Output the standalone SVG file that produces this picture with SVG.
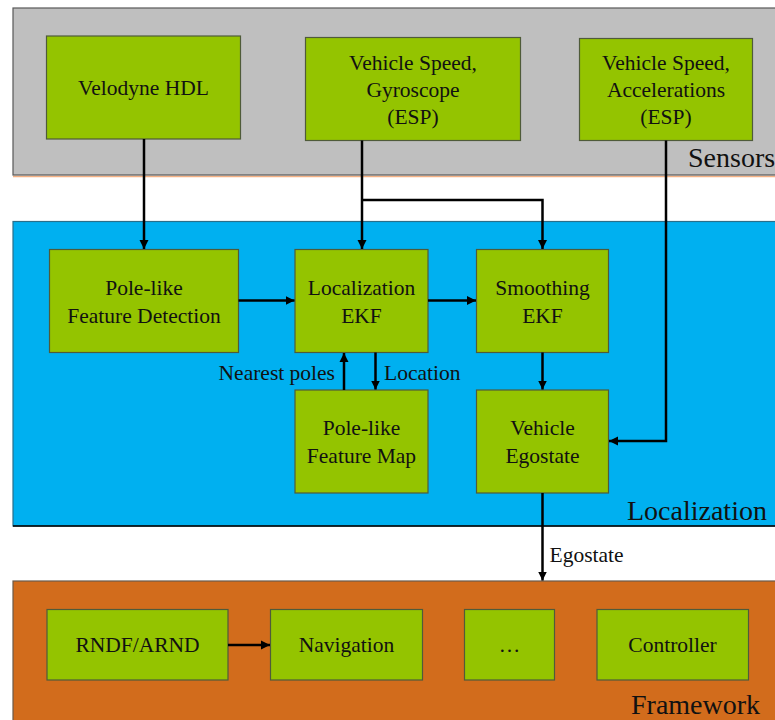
<svg xmlns="http://www.w3.org/2000/svg" width="775" height="720" viewBox="0 0 775 720" font-family="'Liberation Serif', 'DejaVu Serif', serif">
<style>
.node rect{fill:#94C400;stroke:#4F5B3A;stroke-width:1.2}
text{font-family:'Liberation Serif','DejaVu Serif',serif;fill:#111}
.nt{font-size:21.5px;text-anchor:middle}
.lbl{font-size:21.5px}
.pl{font-size:28px}
.conn path{fill:none;stroke:#000;stroke-width:2.5}
</style>
<defs>
<marker id="ah" markerUnits="userSpaceOnUse" markerWidth="10" markerHeight="10" refX="9" refY="5" orient="auto">
<path d="M0,0.5 L9,5 L0,9.5 z" fill="#000"/>
</marker>
</defs>
<rect width="775" height="720" fill="#fff"/>
<g id="sensors-panel">
<line x1="13" y1="176.5" x2="775" y2="176.5" stroke="#F4B183" stroke-width="1.5"/>
<rect x="13" y="8" width="780" height="167" fill="#BFBFBF" stroke="#595959" stroke-width="1.2"/>
<text class="pl" x="688" y="167">Sensors</text>
</g>
<g id="localization-panel">
<rect x="13" y="221.5" width="780" height="304.5" fill="#00B0F0" stroke="#2A6F8A" stroke-width="1.2"/>
<line x1="13" y1="526" x2="775" y2="526" stroke="#000" stroke-width="1.5"/>
<text class="pl" x="627" y="520">Localization</text>
</g>
<g id="framework-panel">
<rect x="13" y="581" width="780" height="150" fill="#D26C1C" stroke="#6B5A4A" stroke-width="1.2"/>
<text class="pl" x="631" y="714">Framework</text>
</g>
<g id="velodyne" class="node"><rect x="46.5" y="36" width="194" height="103"/><text class="nt" x="143.5" y="95">Velodyne HDL</text></g>
<g id="gyro" class="node"><rect x="305.5" y="37.5" width="215" height="103"/><text class="nt" x="413" y="70">Vehicle Speed,</text><text class="nt" x="413" y="97">Gyroscope</text><text class="nt" x="413" y="124">(ESP)</text></g>
<g id="accel" class="node"><rect x="579.5" y="38.5" width="173" height="102"/><text class="nt" x="666" y="70">Vehicle Speed,</text><text class="nt" x="666" y="97">Accelerations</text><text class="nt" x="666" y="124">(ESP)</text></g>
<g id="pole-detection" class="node"><rect x="49.5" y="249.5" width="189" height="103"/><text class="nt" x="144" y="295">Pole-like</text><text class="nt" x="144" y="323">Feature Detection</text></g>
<g id="loc-ekf" class="node"><rect x="295" y="249.5" width="133" height="103"/><text class="nt" x="361.5" y="295">Localization</text><text class="nt" x="361.5" y="323">EKF</text></g>
<g id="smooth-ekf" class="node"><rect x="476.5" y="249.5" width="132" height="103"/><text class="nt" x="542.5" y="295">Smoothing</text><text class="nt" x="542.5" y="323">EKF</text></g>
<g id="pole-map" class="node"><rect x="295" y="390" width="133" height="103"/><text class="nt" x="361.5" y="435">Pole-like</text><text class="nt" x="361.5" y="463">Feature Map</text></g>
<g id="egostate" class="node"><rect x="476.5" y="390" width="132" height="103"/><text class="nt" x="542.5" y="435">Vehicle</text><text class="nt" x="542.5" y="463">Egostate</text></g>
<g id="rndf" class="node"><rect x="47" y="609.5" width="181" height="70.5"/><text class="nt" x="137.5" y="652">RNDF/ARND</text></g>
<g id="navigation" class="node"><rect x="270.5" y="609.5" width="152" height="70.5"/><text class="nt" x="346.5" y="652">Navigation</text></g>
<g id="dots" class="node"><rect x="464.5" y="609.5" width="90" height="70.5"/><text class="nt" x="509.5" y="652">…</text></g>
<g id="controller" class="node"><rect x="597" y="609.5" width="151.5" height="70.5"/><text class="nt" x="672.5" y="652">Controller</text></g>
<g id="connectors" class="conn">
<path d="M144,139 V249" marker-end="url(#ah)"/>
<path d="M362,140.5 V249" marker-end="url(#ah)"/>
<path d="M362,200 H542.5 V249" marker-end="url(#ah)"/>
<path d="M666,140.5 V441 H609" marker-end="url(#ah)"/>
<path d="M238.5,300.5 H294.5" marker-end="url(#ah)"/>
<path d="M428,300.5 H476" marker-end="url(#ah)"/>
<path d="M344,390 V353" marker-end="url(#ah)"/>
<path d="M375.5,352.5 V389.5" marker-end="url(#ah)"/>
<path d="M542.5,352.5 V389.5" marker-end="url(#ah)"/>
<path d="M542.5,493 V580.5" marker-end="url(#ah)"/>
<path d="M228,645 H270" marker-end="url(#ah)"/>
<text class="lbl" x="335" y="380" text-anchor="end">Nearest poles</text>
<text class="lbl" x="384" y="380">Location</text>
<text class="lbl" x="549.5" y="562">Egostate</text>
</g>
</svg>
